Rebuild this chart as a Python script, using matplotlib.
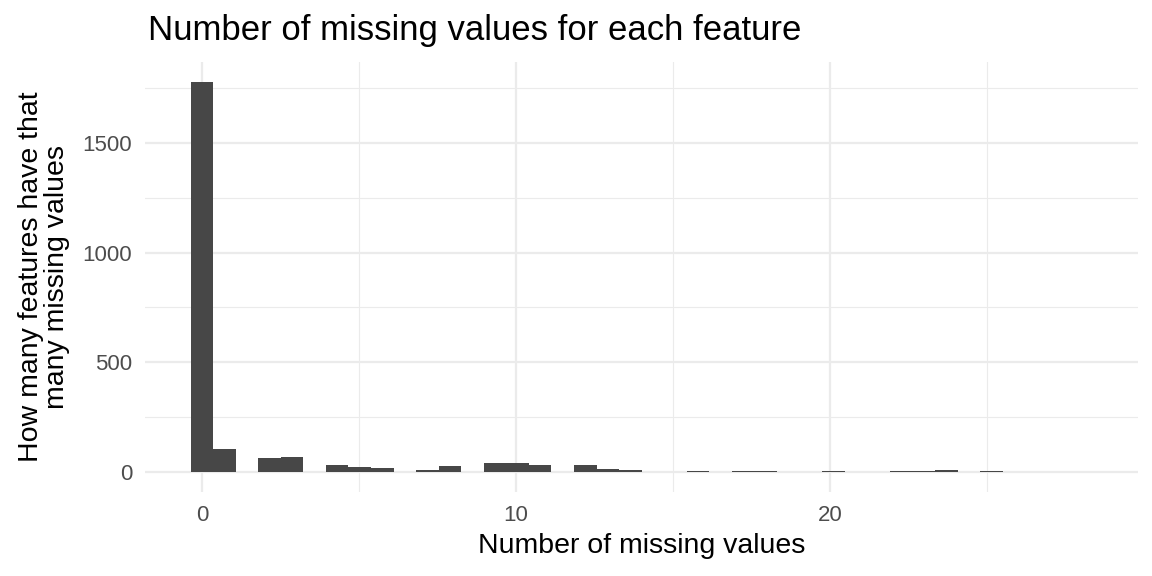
import numpy as np
import matplotlib
matplotlib.use("Agg")
import matplotlib.pyplot as plt

# histogram of missing-value counts: 40 bins over 0..28
x_min, x_max = 0, 28
counts = [1780, 107, 0, 62, 66, 0, 30, 21, 16, 0,
          11, 25, 0, 39, 39, 34, 0, 34, 14, 8,
          0, 1, 3, 0, 3, 3, 2, 0, 3, 2,
          0, 3, 3, 7, 0, 3, 1, 0, 1, 1]
x_ticks = [0, 10, 20]
y_ticks = [0, 500, 1000, 1500]

plt.rcParams["font.family"] = ["Liberation Sans", "DejaVu Sans"]

centers = np.linspace(x_min, x_max, len(counts))
width = (x_max - x_min) / (len(counts) - 1)

fig = plt.figure(figsize=(11.52, 5.76), dpi=100)
ax = fig.add_axes([0.1263, 0.1467, 0.8615, 0.7457])
ax.bar(centers, counts, width=width, color="#474747", linewidth=0, zorder=3)

lo, hi = x_min - width / 2, x_max + width / 2
pad = 0.05 * (hi - lo)
ax.set_xlim(lo - pad, hi + pad)
ymax = max(counts)
ax.set_ylim(-0.05 * ymax, 1.05 * ymax)

ax.set_xticks(x_ticks)
ax.set_yticks(y_ticks)
ax.set_xticks([5, 15, 25], minor=True)
ax.set_yticks([250, 750, 1250, 1750], minor=True)
ax.grid(which="major", color="#EBEBEB", linewidth=1.6, zorder=0)
ax.grid(which="minor", color="#EBEBEB", linewidth=0.8, zorder=0)
for s in ax.spines.values():
    s.set_visible(False)
ax.tick_params(which="both", length=0, labelsize=16, labelcolor="#4D4D4D")
ax.tick_params(axis="x", pad=9.5)
ax.tick_params(axis="y", pad=9.5)

ax.set_xlabel("Number of missing values", fontsize=20.5, labelpad=5)
ax.set_ylabel("How many features have that\nmany missing values", fontsize=20.5,
              labelpad=9, linespacing=1.0)
fig.text(0.1285, 0.9306, "Number of missing values for each feature", fontsize=25,
         ha="left", va="baseline")

fig.savefig("out.png", dpi=100)
